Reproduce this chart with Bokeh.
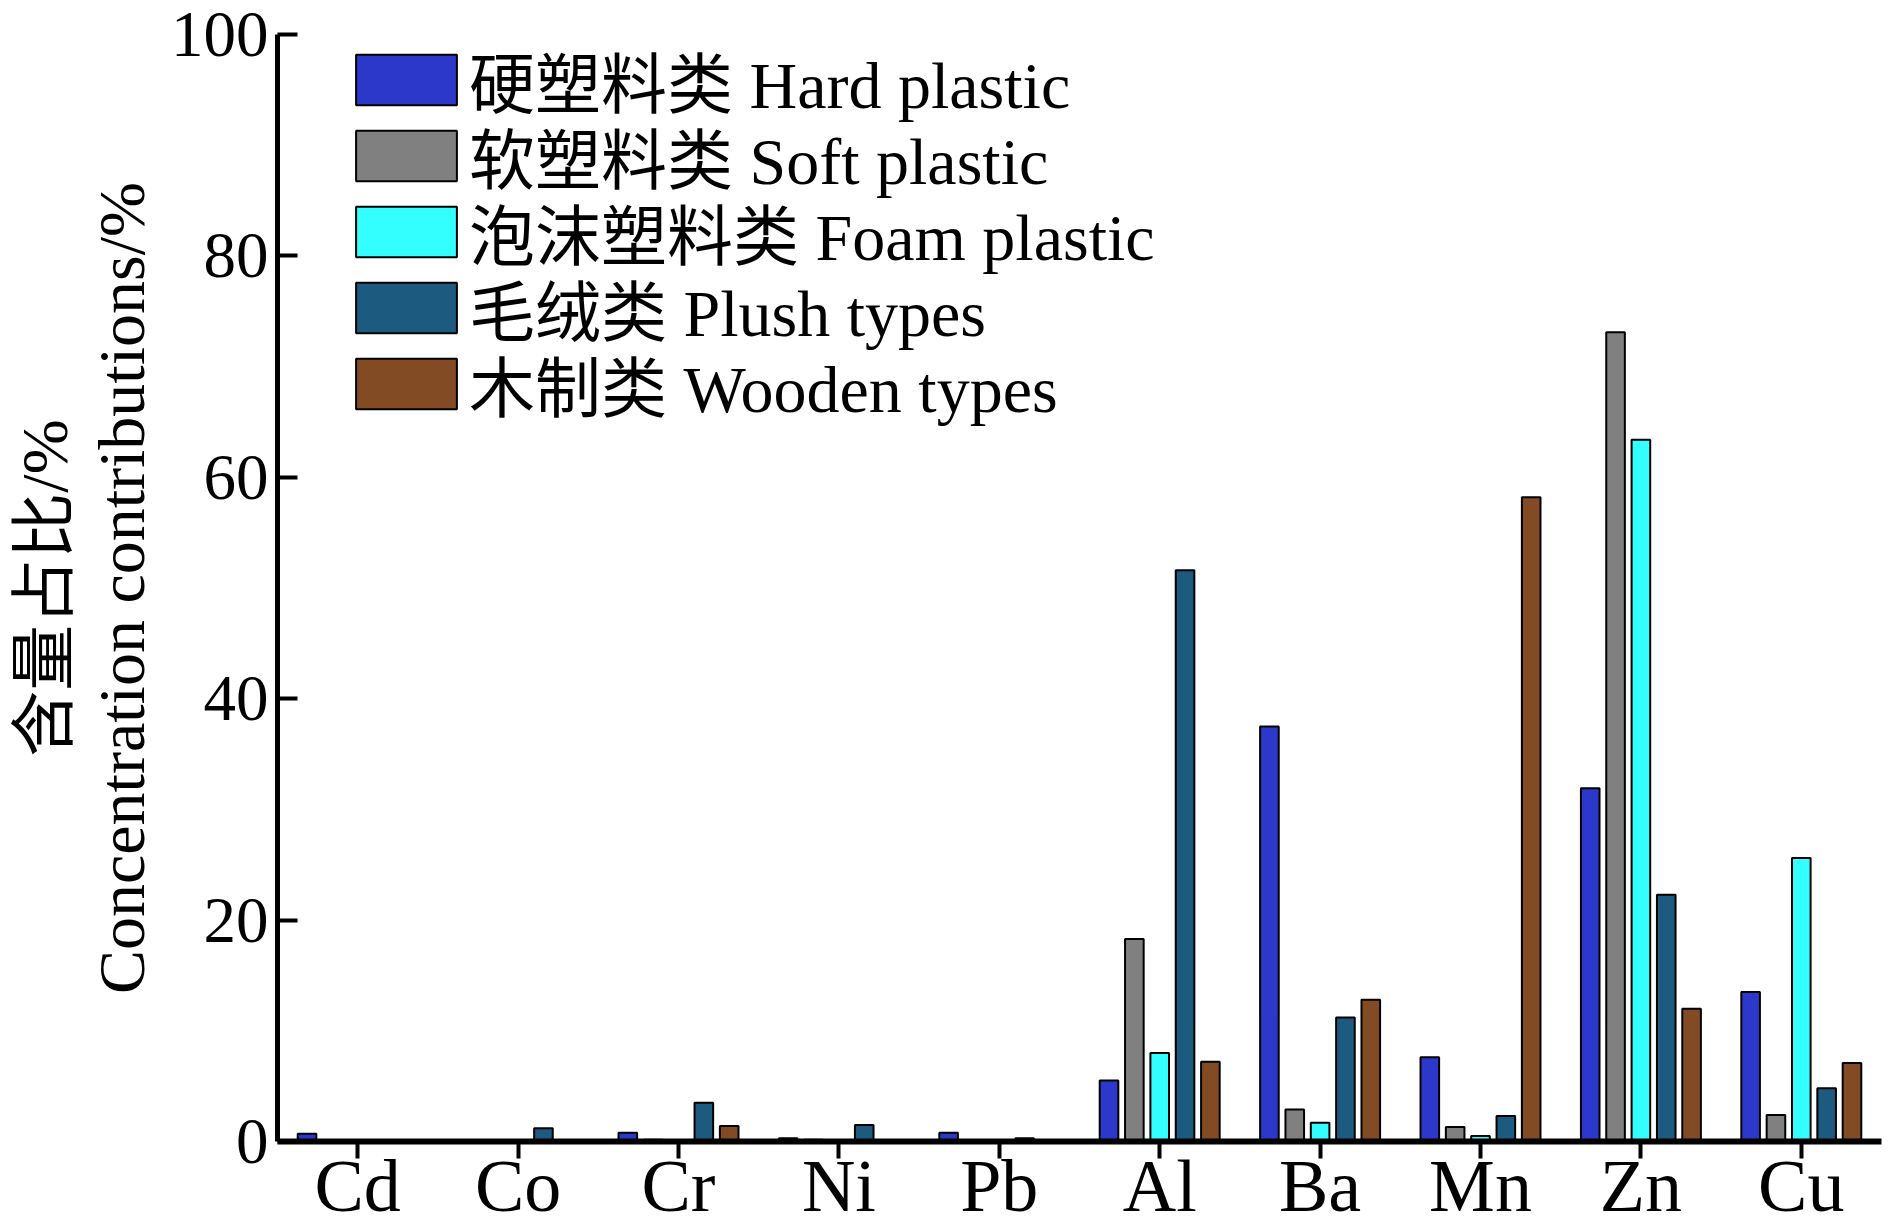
from bokeh.plotting import figure
from bokeh.models import ColumnDataSource, Legend, LegendItem, FixedTicker, Range1d, FactorRange
from bokeh.transform import dodge
from bokeh.embed import file_html
from bokeh.resources import INLINE

elements = ["Cd", "Co", "Cr", "Ni", "Pb", "Al", "Ba", "Mn", "Zn", "Cu"]
hard_plastic = [0.7, 0, 0.8, 0.3, 0.8, 5.5, 37.5, 7.6, 31.9, 13.5]
soft_plastic = [0, 0, 0.15, 0.15, 0, 18.3, 2.9, 1.3, 73.1, 2.4]
foam_plastic = [0, 0, 0, 0, 0, 8.0, 1.7, 0.5, 63.4, 25.6]
plush_types = [0, 1.2, 3.5, 1.5, 0.3, 51.6, 11.2, 2.3, 22.3, 4.8]
wooden_types = [0, 0, 1.4, 0, 0.1, 7.2, 12.8, 58.2, 12.0, 7.1]

series_keys = ["hard", "soft", "foam", "plush", "wood"]
series_labels = ["硬塑料类 Hard plastic", "软塑料类 Soft plastic", "泡沫塑料类 Foam plastic",
                 "毛绒类 Plush types", "木制类 Wooden types"]
series_colors = ["#2B38C9", "#808080", "#33FFFF", "#1C5A80", "#834B24"]
y_ticks = [0, 20, 40, 60, 80, 100]

FONT = "'Liberation Serif', 'Noto Sans CJK SC'"

src = ColumnDataSource(dict(cat=elements, hard=hard_plastic, soft=soft_plastic,
                            foam=foam_plastic, plush=plush_types, wood=wooden_types))

p = figure(width=1890, height=1231, x_range=FactorRange(*elements), y_range=Range1d(0, 100),
           output_backend="svg", toolbar_location=None,
           min_border_left=277, min_border_right=9, min_border_top=34, min_border_bottom=90)
p.outline_line_color = None
p.grid.visible = False

pitch = 0.158
width = 0.116
renderers = []
for i, (k, col) in enumerate(zip(series_keys, series_colors)):
    r = p.vbar(x=dodge("cat", (i - 2) * pitch, range=p.x_range), top=k, width=width, source=src,
               fill_color=col, line_color="black", line_width=2)
    renderers.append(r)

# one legend box per entry, stacked at the reference's row pitch
legend_rows_y = [1014, 938, 862, 786, 710]
for r, lab, ly in zip(renderers, series_labels, legend_rows_y):
    lg = Legend(items=[LegendItem(label=lab, renderers=[r])], location=(66, ly),
                padding=0, margin=0, spacing=0,
                glyph_width=126, glyph_height=63, label_height=50, label_standoff=0,
                label_text_font=FONT, label_text_font_size="66px", label_text_color="black",
                border_line_color=None, background_fill_alpha=0)
    p.add_layout(lg, "center")

# y axis
ya = p.yaxis[0]
ya.ticker = FixedTicker(ticks=y_ticks)
ya.axis_label = "含量占比/%\nConcentration contributions/%"
ya.axis_label_text_font = FONT
ya.axis_label_text_font_size = "66px"
ya.axis_label_text_font_style = "normal"
ya.axis_label_text_color = "black"
ya.axis_label_text_line_height = 1.05
ya.axis_label_standoff = 10
ya.axis_line_width = 5
ya.major_tick_line_width = 4
ya.major_tick_in = 20
ya.major_tick_out = 0
ya.minor_tick_in = 0
ya.minor_tick_out = 0
ya.major_label_text_font = FONT
ya.major_label_text_font_size = "65px"
ya.major_label_standoff = 9
ya.major_label_text_color = "black"

# x axis
xa = p.xaxis[0]
xa.axis_line_width = 6
xa.major_tick_line_width = 4
xa.major_tick_in = 0
xa.major_tick_out = 17
xa.major_label_text_font = FONT
xa.major_label_text_font_size = "74px"
xa.major_label_standoff = -14
xa.major_label_text_color = "black"

open("out.html", "w").write(file_html(p, INLINE))
